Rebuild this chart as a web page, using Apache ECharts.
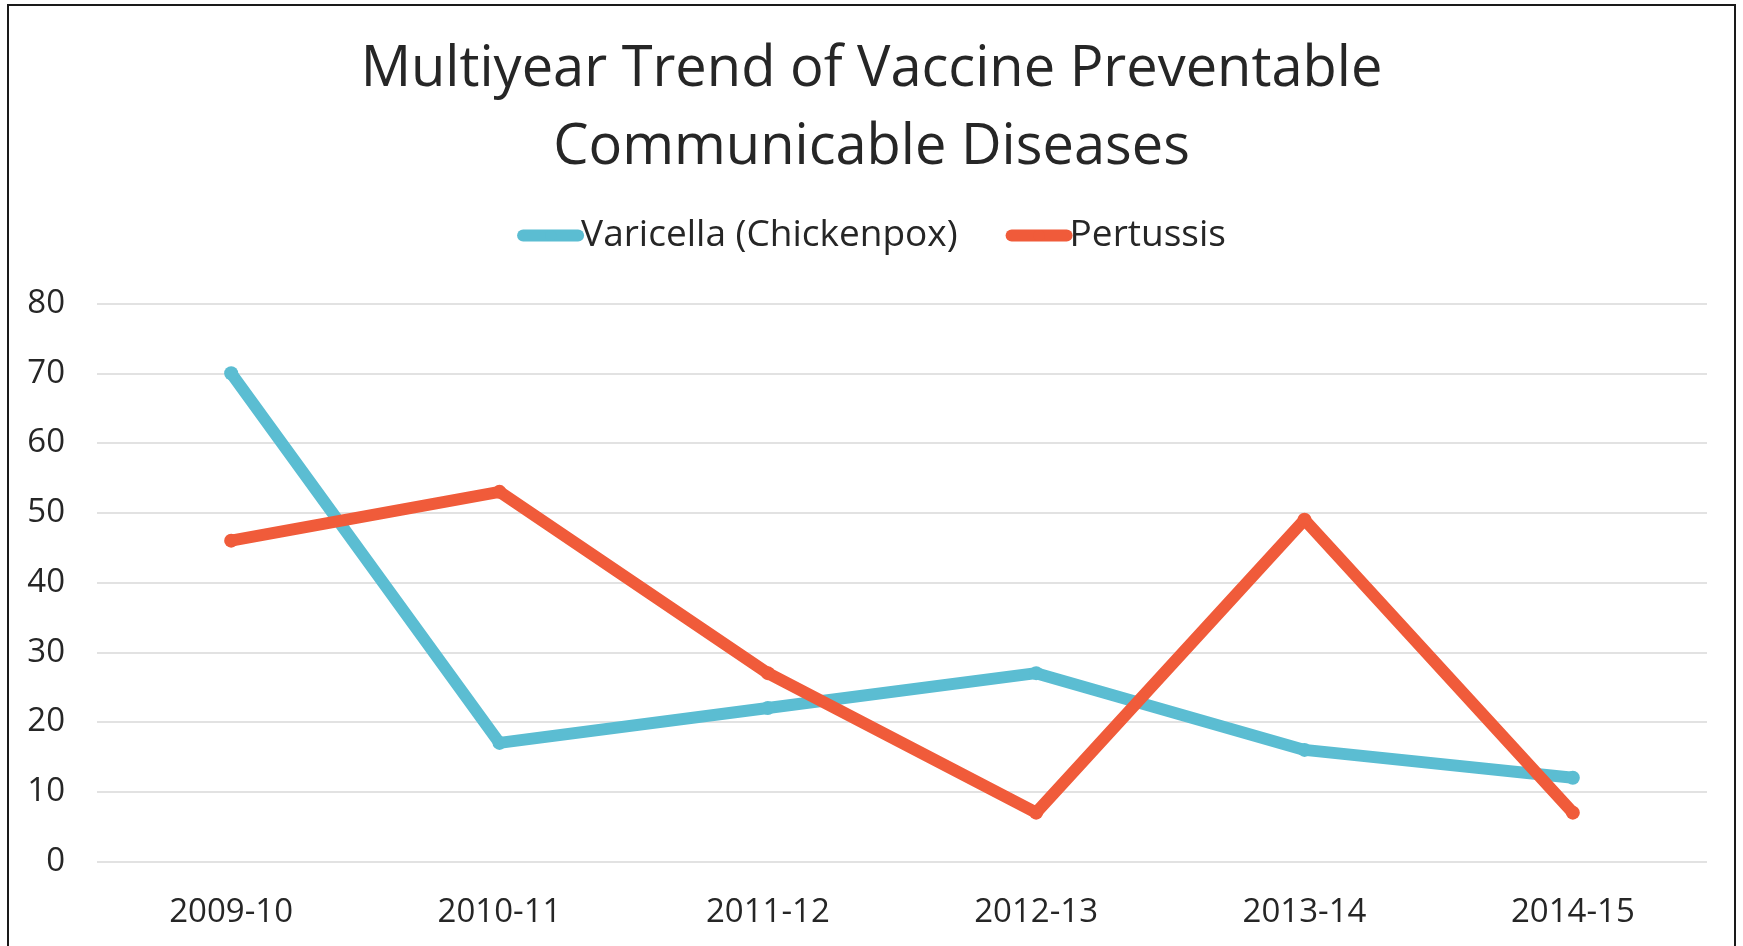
<!DOCTYPE html>
<html>
<head>
<meta charset="utf-8">
<script src="https://cdn.jsdelivr.net/npm/echarts@6/dist/echarts.min.js"></script>
<style>
html,body{margin:0;padding:0;background:#fff;}
#chart{width:1743px;height:946px;}
</style>
</head>
<body>
<div id="chart"></div>
<script>
const categories = ['2009-10', '2010-11', '2011-12', '2012-13', '2013-14', '2014-15'];
const varicella = [70, 17, 22, 27, 16, 12];
const pertussis = [46, 53, 27, 7, 49, 7];
const seriesNames = ['Varicella (Chickenpox)', 'Pertussis'];
const titleText = 'Multiyear Trend of Vaccine Preventable\nCommunicable Diseases';

const FONT = '"Open Sans", sans-serif';
const TEXT = '#262626';
const chart = echarts.init(document.getElementById('chart'));
chart.setOption({
  animation: false,
  backgroundColor: '#ffffff',
  title: {
    text: titleText,
    left: 'center',
    top: 26,
    textStyle: { fontFamily: FONT, fontSize: 56, fontWeight: 'normal', color: TEXT, lineHeight: 78 }
  },
  legend: {
    top: 212,
    left: 'center',
    itemWidth: 55,
    itemHeight: 14,
    itemGap: 48,
    lineStyle: { width: 12, cap: 'round' },
    textStyle: { fontFamily: FONT, fontSize: 37, color: TEXT, padding: [0, 0, 0, -2] },
    data: seriesNames
  },
  graphic: [{
    type: 'rect',
    silent: true,
    z: 100,
    shape: { x: 8, y: 5, width: 1727, height: 980 },
    style: { fill: 'none', stroke: '#1a1a1a', lineWidth: 2 }
  }],
  grid: { left: 97, right: 36, top: 303.5, bottom: 84.5 },
  xAxis: {
    type: 'category',
    data: categories,
    boundaryGap: true,
    axisLine: { show: false },
    axisTick: { show: false },
    axisLabel: { fontFamily: FONT, fontSize: 33, color: TEXT, margin: 35 }
  },
  yAxis: {
    type: 'value',
    min: 0, max: 80, interval: 10,
    axisLine: { show: false },
    axisTick: { show: false },
    axisLabel: { fontFamily: FONT, fontSize: 33, color: TEXT, margin: 32 },
    splitLine: { lineStyle: { color: '#d9d9d9', width: 1.5 } }
  },
  series: [
    {
      name: seriesNames[0], type: 'line', data: varicella,
      color: '#5bbdd2',
      lineStyle: { width: 12, cap: 'round', join: 'round' },
      symbol: 'circle', symbolSize: 14,
      itemStyle: { color: '#5bbdd2' }
    },
    {
      name: seriesNames[1], type: 'line', data: pertussis,
      color: '#f05b3a',
      lineStyle: { width: 12, cap: 'round', join: 'round' },
      symbol: 'circle', symbolSize: 14,
      itemStyle: { color: '#f05b3a' }
    }
  ]
});
</script>
</body>
</html>
